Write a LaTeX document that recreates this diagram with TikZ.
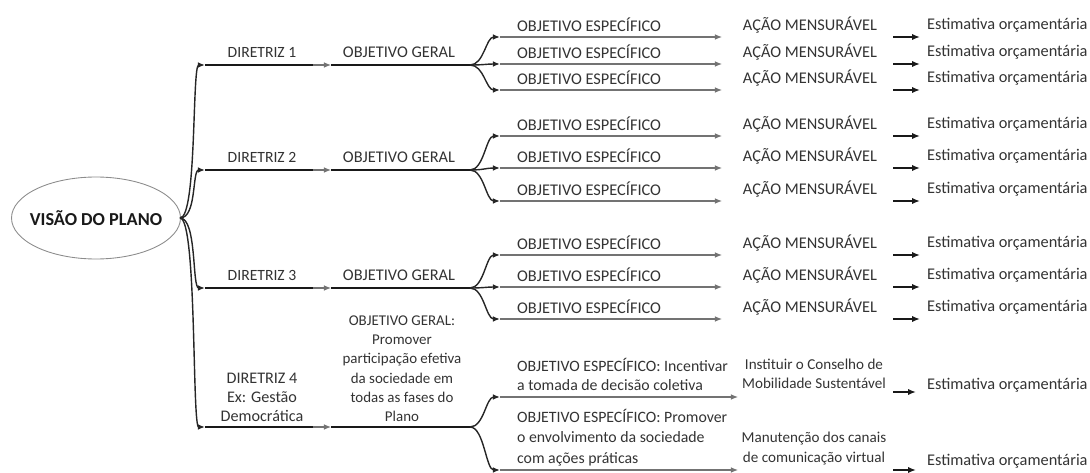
\documentclass[tikz,border=0pt]{standalone}
\usepackage{fontspec}
\setmainfont{Carlito}
\usetikzlibrary{positioning, arrows.meta}

\begin{document}
\begin{tikzpicture}[x=0.02cm, y=-0.02cm]
  % Styles
  \tikzset{
    txt/.style={font=\fontsize{9.3}{11}\selectfont, text=black!80, inner sep=1pt},
    thickline/.style={line width=1.6pt, black!90},
    thinline/.style={line width=0.6pt, black!55},
    tip/.style={-{Latex[length=4pt, width=3.2pt]}},
    tree/.style={line width=0.8pt, black!85, -{Latex[length=4pt, width=3.2pt]}},
    shortarrow/.style={line width=0.9pt, black!90, -{Latex[length=4.5pt, width=3.6pt]}}
  }
  \useasboundingbox (0,0) rectangle (1090,473);

  % Root: vision of the plan
  \node[font=\fontsize{10.4}{12}\selectfont\bfseries, text=black!90, inner sep=0pt] (vis) at (96,218) {VISÃO DO PLANO};
  \draw[black!45, line width=0.5pt] (vis.center) ellipse [x radius=1.69cm, y radius=0.82cm];
  \coordinate (visE) at (180,218);

  % Guidelines 1-3 with three specific objectives each
  \foreach \g/\m/\a/\b/\c in {1/65/37/64/90, 2/170/136/168/201, 3/288/255/287/319} {
    \node[txt, font=\fontsize{8.9}{11}\selectfont] (dir\g) at (262,\m-13) {DIRETRIZ \g};
    \node[txt] (geral\g) at (399,\m-13) {OBJETIVO GERAL};
    \coordinate (ds\g) at (205,\m);
    \coordinate (de\g) at (313,\m);
    \coordinate (gs\g) at (331,\m);
    \coordinate (ge\g) at (470,\m);
    \draw[tree] (visE) .. controls (197,218) and (192,\m) .. (ds\g);
    \draw[thickline] (ds\g) -- (de\g);
    \draw[thinline, tip] (de\g) -- (gs\g);
    \draw[thickline] (gs\g) -- (ge\g);
    \foreach \y [count=\i] in {\a,\b,\c} {
      \coordinate (os\g\i) at (500,\y);
      \coordinate (oe\g\i) at (722,\y);
      \coordinate (as\g\i) at (893,\y);
      \coordinate (ae\g\i) at (920,\y);
      \node[txt, anchor=west] (esp\g\i) at (515,\y-12) {OBJETIVO ESPECÍFICO};
      \node[txt] (acao\g\i) at (810,\y-12) {AÇÃO MENSURÁVEL};
      \node[txt, anchor=west] (est\g\i) at (925,\y-12) {Estimativa orçamentária};
      \draw[tree] (ge\g) .. controls (484,\m) and (486,\y) .. (os\g\i);
      \draw[thinline, tip] (os\g\i) -- (oe\g\i);
      \draw[shortarrow] (as\g\i) -- (ae\g\i);
    }
  }

  % Guideline 4: example
  \node[txt, align=center, anchor=south, font=\fontsize{9.2}{11}\selectfont] (dir4) at (262,424)
    {DIRETRIZ 4\\Ex: Gestão\\Democrática};
  \node[txt, align=center, anchor=south, font=\fontsize{8.5}{11}\selectfont] (geral4) at (402,424)
    {OBJETIVO GERAL:\\Promover\\participação efetiva\\da sociedade em\\todas as fases do\\Plano};
  \coordinate (ds4) at (205,427);
  \coordinate (de4) at (313,427);
  \coordinate (gs4) at (331,427);
  \coordinate (ge4) at (470,427);
  \draw[tree] (visE) .. controls (197,218) and (192,427) .. (ds4);
  \draw[thickline] (ds4) -- (de4);
  \draw[thinline, tip] (de4) -- (gs4);
  \draw[thickline] (gs4) -- (ge4);

  \coordinate (os41) at (500,397);
  \coordinate (oe41) at (738,397);
  \coordinate (os42) at (500,470);
  \coordinate (oe42) at (738,470);
  \draw[tree] (ge4) .. controls (484,427) and (486,397) .. (os41);
  \draw[tree] (ge4) .. controls (484,427) and (486,470) .. (os42);
  \draw[thinline, tip] (os41) -- (oe41);
  \draw[thinline, tip] (os42) -- (oe42);

  \node[txt, align=left, anchor=south west, font=\fontsize{9}{10.8}\selectfont] (esp41) at (515,393)
    {OBJETIVO ESPECÍFICO: Incentivar\\a tomada de decisão coletiva};
  \node[txt, align=left, anchor=south west, font=\fontsize{9}{11.6}\selectfont] (esp42) at (515,468)
    {OBJETIVO ESPECÍFICO: Promover\\o envolvimento da sociedade\\com ações práticas};
  \node[txt, align=center, anchor=south, font=\fontsize{8.6}{11}\selectfont] (acao41) at (814,391)
    {Instituir o Conselho de\\Mobilidade Sustentável};
  \node[txt, align=center, anchor=south, font=\fontsize{8.6}{11.4}\selectfont] (acao42) at (814,467)
    {Manutenção dos canais\\de comunicação virtual};
  \node[txt, anchor=west] (est41) at (925,385) {Estimativa orçamentária};
  \node[txt, anchor=west] (est42) at (925,461) {Estimativa orçamentária};
  \coordinate (as41) at (893,392);
  \coordinate (ae41) at (916,392);
  \coordinate (as42) at (893,470);
  \coordinate (ae42) at (916,470);
  \draw[shortarrow] (as41) -- (ae41);
  \draw[shortarrow] (as42) -- (ae42);
\end{tikzpicture}
\end{document}
